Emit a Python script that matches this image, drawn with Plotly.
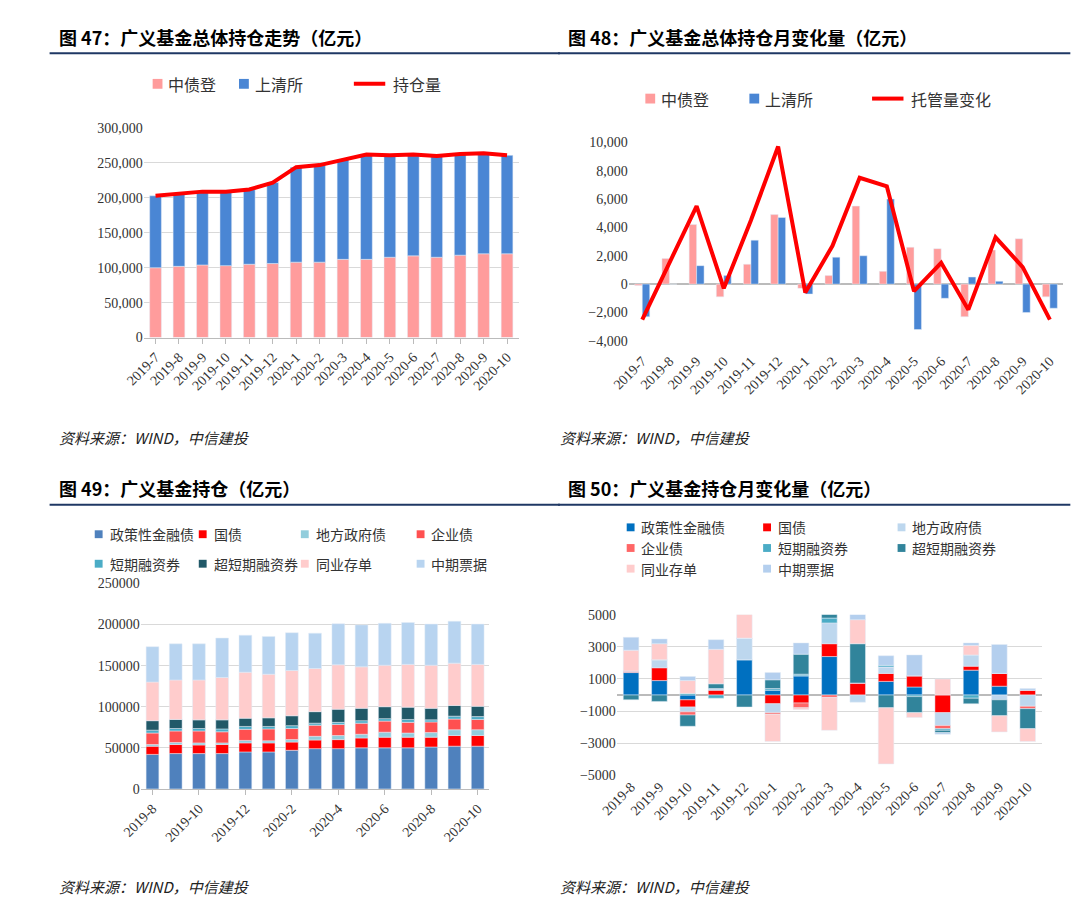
import numpy as np
import plotly.graph_objects as go

# ---- data ----
months47 = ['2019-7', '2019-8', '2019-9', '2019-10', '2019-11', '2019-12', '2020-1', '2020-2',
            '2020-3', '2020-4', '2020-5', '2020-6', '2020-7', '2020-8', '2020-9', '2020-10']
zzd_hold = [100000, 102000, 104000, 103000, 105000, 106000, 108000, 108000,
            112000, 112000, 115000, 117000, 115000, 118000, 120000, 120000]
sqs_hold = [103000, 104000, 105000, 106000, 107000, 116000, 136000, 139000,
            143000, 150000, 146000, 145000, 145000, 145000, 144000, 141000]
total_hold = [203000, 206000, 209000, 209000, 212000, 222000, 244000, 247000,
              255000, 262000, 261000, 262000, 260000, 263000, 264000, 261000]

zzd_chg = [-100, 1800, 4200, -900, 1400, 4900, -300, 600, 5500, 900, 2600, 2500, -2300, 2400, 3200, -900]
sqs_chg = [-2300, 0, 1300, 600, 3100, 4700, -700, 1900, 2000, 6000, -3200, -1000, 500, 200, -2000, -1700]
custody_chg = [-2500, 1500, 5500, -300, 4500, 9700, -600, 2700, 7500, 6900, -500, 1500, -1800, 3300, 1200, -2500]

months49 = ['2019-8', '2019-9', '2019-10', '2019-11', '2019-12', '2020-1', '2020-2', '2020-3',
            '2020-4', '2020-5', '2020-6', '2020-7', '2020-8', '2020-9', '2020-10']
kinds = ['政策性金融债', '国债', '地方政府债', '企业债', '短期融资券', '超短期融资券', '同业存单', '中期票据']
hold49 = {
    '政策性金融债': [42000, 43000, 43000, 43000, 45000, 45000, 47000, 49000, 49000, 50000, 50000, 50000, 51000, 52000, 52000],
    '国债': [10000, 11000, 10500, 11000, 11000, 11000, 10000, 10500, 11000, 12000, 13000, 13000, 12000, 13000, 13000],
    '地方政府债': [2000, 2500, 2500, 2000, 3000, 2500, 3000, 4500, 5000, 4500, 6000, 5000, 5500, 7000, 7000],
    '企业债': [14000, 14000, 14500, 13500, 13500, 14500, 13500, 13500, 13500, 13500, 13500, 13000, 13000, 13000, 12500],
    '短期融资券': [3500, 3000, 3000, 3500, 3500, 3000, 3500, 2500, 2500, 3000, 3000, 3500, 2500, 3500, 3500],
    '超短期融资券': [11500, 11000, 10500, 11000, 10000, 10500, 12000, 14000, 16000, 15000, 14500, 15000, 14000, 13000, 12500],
    '同业存单': [47000, 48000, 48500, 51500, 56000, 53000, 55000, 52500, 54000, 50500, 50500, 52000, 52500, 51500, 51000],
    '中期票据': [43000, 44000, 44000, 48000, 45000, 46000, 46000, 43000, 50000, 51000, 51000, 51000, 50000, 51000, 49000],
}
chg50 = {
    '政策性金融债': [1400, 900, -300, 0, 2200, 300, 1200, 2400, 0, 850, 500, 0, 1550, 550, 0],
    '国债': [50, 800, -450, 300, 0, -550, -500, 800, 750, 500, 700, -1100, 250, 800, 300],
    '地方政府债': [0, 500, -300, 100, 1350, -550, 0, 1300, -450, 400, 0, -800, 700, -300, -700],
    '企业债': [50, 0, -200, 0, 0, -100, -300, -150, 0, 0, 0, -200, 0, 0, -150],
    '短期融资券': [0, 0, 100, -200, 0, 100, 100, 300, 0, 100, -100, -100, -200, 0, 0],
    '超短期融资券': [-300, -400, -700, 300, -750, 550, 1250, 300, 2450, -800, -1000, -150, -350, -1000, -1250],
    '同业存单': [1300, 1000, 800, 2150, 1500, -1700, -100, -2050, 1500, -3500, -300, 1000, 600, -1000, -800],
    '中期票据': [800, 300, 250, 600, 0, 450, 700, 0, 400, 600, 1300, -100, 150, 1800, 100],
}

colors49 = ['#4f81bd', '#ff0000', '#92cddc', '#ff5050', '#4bacc6', '#215968', '#ffcccc', '#b8d4f0']
colors50 = ['#0070c0', '#ff0000', '#bdd7ee', '#ff6666', '#4bacc6', '#31849b', '#ffcccc', '#b4cfee']

W, H = 1080, 903
def px(x): return x / W
def py(y): return 1 - y / H

CJK = 'Noto Sans CJK SC'
TICK = dict(family='Liberation Serif, ' + CJK, size=14, color='#333')

fig = go.Figure()

# panel 47 (stacked through base)
fig.add_trace(go.Bar(x=months47, y=zzd_hold, marker_color='#ff9c9c', offsetgroup='a',
                     xaxis='x', yaxis='y', width=0.5))
fig.add_trace(go.Bar(x=months47, y=sqs_hold, base=zzd_hold, marker_color='#4a86d4', offsetgroup='a',
                     xaxis='x', yaxis='y', width=0.5))
fig.add_trace(go.Scatter(x=months47, y=total_hold, mode='lines',
                         line=dict(color='#ff0000', width=4), xaxis='x', yaxis='y'))

# panel 48 (grouped)
fig.add_trace(go.Bar(x=months47, y=zzd_chg, marker_color='#ff9c9c', offsetgroup='p',
                     xaxis='x2', yaxis='y2'))
fig.add_trace(go.Bar(x=months47, y=sqs_chg, marker_color='#4a86d4', offsetgroup='q',
                     xaxis='x2', yaxis='y2'))
fig.add_trace(go.Scatter(x=months47, y=custody_chg, mode='lines',
                         line=dict(color='#ff0000', width=4), xaxis='x2', yaxis='y2'))

# panel 49 stacked
cum = np.zeros(len(months49))
for k, c in zip(kinds, colors49):
    v = np.array(hold49[k], dtype=float)
    fig.add_trace(go.Bar(x=months49, y=v, base=cum.copy(), marker_color=c, width=0.55,
                         offsetgroup='s', xaxis='x3', yaxis='y3'))
    cum += v

# panel 50 relative stacked
pos = np.zeros(len(months49))
neg = np.zeros(len(months49))
for k, c in zip(kinds, colors50):
    v = np.array(chg50[k], dtype=float)
    base = np.where(v >= 0, pos, neg)
    fig.add_trace(go.Bar(x=months49, y=v, base=base, marker_color=c, width=0.55,
                         offsetgroup='t', xaxis='x4', yaxis='y4'))
    pos += np.where(v > 0, v, 0)
    neg += np.where(v < 0, v, 0)

ax = dict(showgrid=False, showline=True, linecolor='#bbb', ticks='outside', tickcolor='#bbb',
          tickangle=-45, tickfont=TICK, type='category')
ay = dict(showgrid=True, gridcolor='#d9d9d9', tickfont=TICK, zeroline=False, showline=False)

fig.update_layout(
    width=W, height=H, margin=dict(l=0, r=0, t=0, b=0), showlegend=False,
    plot_bgcolor='white', paper_bgcolor='white', barmode='group', bargap=0.45, bargroupgap=0,
    xaxis=dict(ax, domain=[px(118), px(500)], anchor='y'),
    yaxis=dict(ay, domain=[py(328), py(115)], range=[0, 300000], dtick=50000, tickformat=',', anchor='x'),
    xaxis2=dict(ax, domain=[px(612), px(1055)], anchor='y2', showline=False, ticks=''),
    yaxis2=dict(ay, domain=[py(340), py(115)], range=[-4600, 11000], tickvals=list(range(-4000, 10001, 2000)),
                tickformat=',', anchor='x2', showgrid=False, zeroline=True, zerolinecolor='#bbb'),
    xaxis3=dict(ax, domain=[px(115), px(470)], anchor='y3', tickvals=months49[::2]),
    yaxis3=dict(ay, domain=[py(787), py(578)], range=[0, 250000], dtick=50000, tickformat='d', anchor='x3'),
    xaxis4=dict(ax, domain=[px(600), px(1033)], anchor='y4', showline=False, ticks=''),
    yaxis4=dict(ay, domain=[py(773), py(610)], range=[-5000, 5000], tick0=-5000, dtick=2000, anchor='x4',
                zeroline=True, zerolinecolor='#bbb'),
)

# hand-made legends
def legend_box(x, y, color, text, size=16, line=False):
    if line:
        fig.add_shape(type='line', xref='paper', yref='paper', x0=px(x - 20), x1=px(x + 12),
                      y0=py(y), y1=py(y), line=dict(color=color, width=4))
        tx = x + 18
    else:
        s = 5 if size >= 16 else 4
        fig.add_shape(type='rect', xref='paper', yref='paper', x0=px(x - s), x1=px(x + s),
                      y0=py(y - s), y1=py(y + s), line=dict(width=0), fillcolor=color)
        tx = x + 9
    fig.add_annotation(text=text, x=px(tx), y=py(y), xref='paper', yref='paper', xanchor='left',
                       yanchor='middle', showarrow=False, font=dict(family=CJK, size=size, color='#333'))

legend_box(132, 70, '#ff9c9c', '中债登')
legend_box(220, 70, '#4a86d4', '上清所')
legend_box(352, 70, '#ff0000', '持仓量', line=True)
legend_box(634, 85, '#ff9c9c', '中债登')
legend_box(740, 85, '#4a86d4', '上清所')
legend_box(880, 85, '#ff0000', '托管量变化', line=True)
cols49 = [72, 178, 282, 400]
for i, (k, c) in enumerate(zip(kinds, colors49)):
    legend_box(cols49[i % 4], 528 + 30 * (i // 4), c, k, size=14)
cols50 = [614, 753, 890]
for i, (k, c) in enumerate(zip(kinds, colors50)):
    legend_box(cols50[i % 3], 521 + 21 * (i // 3), c, k, size=14)

titles = [(22, 22, '图 47：广义基金总体持仓走势（亿元）'), (540, 22, '图 48：广义基金总体持仓月变化量（亿元）'),
          (22, 481, '图 49：广义基金持仓（亿元）'), (540, 481, '图 50：广义基金持仓月变化量（亿元）')]
for x, y, t in titles:
    fig.add_annotation(text='<b>' + t + '</b>', x=px(x + 8), y=py(y), xref='paper', yref='paper',
                       xanchor='left', yanchor='middle', showarrow=False,
                       font=dict(family=CJK, size=18, color='#000'))
    fig.add_shape(type='line', xref='paper', yref='paper', x0=px(x), x1=px(x + 520 if x < 500 else 1062),
                  y0=py(y + 17), y1=py(y + 17), line=dict(color='#1f3864', width=2))
for x, y in [(30, 430), (540, 430), (30, 886), (540, 886)]:
    fig.add_annotation(text='<i>资料来源：WIND，中信建投</i>', x=px(x), y=py(y), xref='paper', yref='paper',
                       xanchor='left', yanchor='middle', showarrow=False,
                       font=dict(family=CJK, size=15, color='#222'))

fig.write_html('out.html')
